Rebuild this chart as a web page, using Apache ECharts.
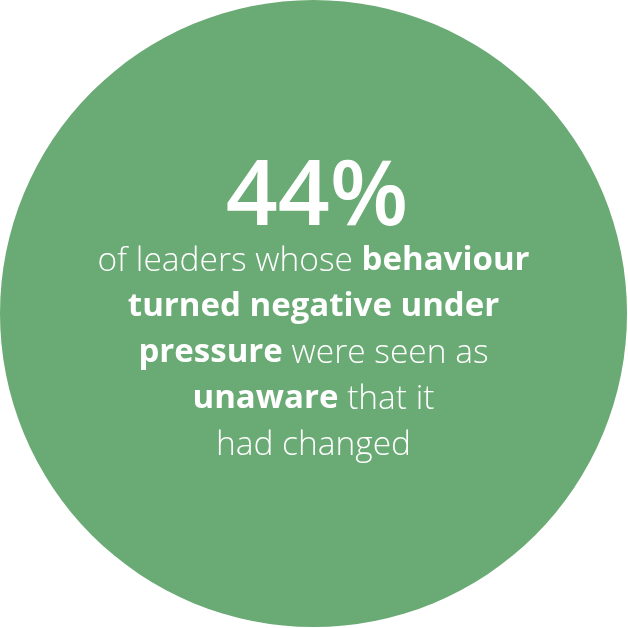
<!DOCTYPE html>
<html>
<head>
<meta charset="utf-8">
<script src="https://cdn.jsdelivr.net/npm/echarts@6/dist/echarts.min.js"></script>
<style>html,body{margin:0;padding:0;background:#fff}#c{width:628px;height:628px}</style>
</head>
<body>
<div id="c"></div>
<script>
var statValue = '44%';
var circleData = [{ name: 'leaders', value: 100 }];
// each line: list of [text, style] segments
var textLines = [
  [['of leaders whose ', 'l'], ['behaviour', 'b']],
  [['turned negative under', 'b']],
  [['pressure', 'b'], [' were seen as', 'l']],
  [['unaware', 'b'], [' that it', 'l']],
  [['had changed', 'l']]
];

var green = '#6aaa74';
var chart = echarts.init(document.getElementById('c'), null, { renderer: 'canvas' });

var graphics = [];
graphics.push({
  type: 'text',
  x: 317, y: 199,
  z: 100,
  silent: true,
  style: {
    text: statValue,
    align: 'center',
    verticalAlign: 'middle',
    fill: '#ffffff',
    fontFamily: 'Open Sans',
    fontWeight: 600,
    fontSize: 91
  }
});
var baselines = [272, 318, 364, 410, 456];
textLines.forEach(function (segs, i) {
  var str = segs.map(function (s) { return '{' + s[1] + '|' + s[0] + '}'; }).join('');
  graphics.push({
    type: 'text',
    x: 313.5, y: baselines[i] - 11,
    z: 100,
    silent: true,
    style: {
      text: str,
      align: 'center',
      verticalAlign: 'middle',
      fill: '#ffffff',
      rich: {
        l: { fontFamily: 'Open Sans', fontWeight: 300, fontSize: 33.5, fill: '#ffffff' },
        b: { fontFamily: 'Open Sans', fontWeight: 700, fontSize: 33, fill: '#ffffff' }
      }
    }
  });
});

chart.setOption({
  animation: false,
  backgroundColor: '#ffffff',
  series: [{
    type: 'pie',
    z: 1,
    center: [313.5, 313.5],
    radius: [0, 313.5],
    silent: true,
    label: { show: false },
    labelLine: { show: false },
    itemStyle: { color: green, borderWidth: 0 },
    data: circleData
  }],
  graphic: graphics
});
</script>
</body>
</html>
